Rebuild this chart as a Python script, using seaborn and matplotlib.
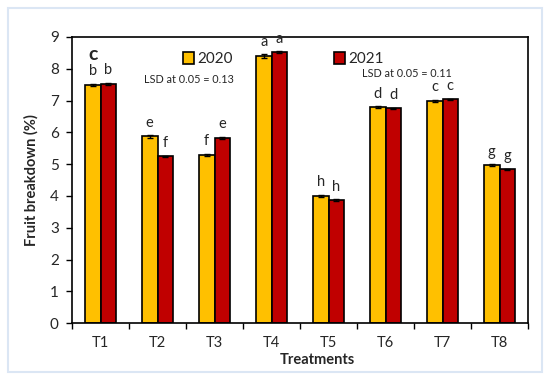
import matplotlib
matplotlib.use("Agg")
import matplotlib.pyplot as plt
import pandas as pd
import seaborn as sns
from matplotlib.patches import Rectangle

treatments = ["T1", "T2", "T3", "T4", "T5", "T6", "T7", "T8"]
years = ["2020", "2021"]
vals_2020 = [7.49, 5.87, 5.30, 8.40, 4.00, 6.79, 6.98, 4.97]
vals_2021 = [7.52, 5.25, 5.83, 8.52, 3.87, 6.75, 7.04, 4.84]
err_2020 = [0.03, 0.04, 0.03, 0.05, 0.04, 0.03, 0.04, 0.03]
err_2021 = [0.03, 0.02, 0.03, 0.03, 0.02, 0.02, 0.02, 0.02]
letters_2020 = ["b", "e", "f", "a", "h", "d", "c", "g"]
letters_2021 = ["b", "f", "e", "a", "h", "d", "c", "g"]
colors = ["#FFC000", "#C00000"]

df = pd.DataFrame({
    "Treatment": treatments * 2,
    "Year": [years[0]] * 8 + [years[1]] * 8,
    "value": vals_2020 + vals_2021,
})

sns.set_theme(style="white")
plt.rcParams["font.family"] = ["Lato", "DejaVu Sans"]

fig, ax = plt.subplots(figsize=(5.5, 3.77), dpi=100)
fig.subplots_adjust(left=0.131, right=0.96, top=0.902, bottom=0.143)

sns.barplot(data=df, x="Treatment", y="value", hue="Year", palette=colors,
            width=0.55, errorbar=None, edgecolor="black", linewidth=1.2,
            saturation=1, ax=ax)

errs = [err_2020, err_2021]
labs = [letters_2020, letters_2021]
for cont, e, lab in zip(ax.containers, errs, labs):
    xs = [p.get_x() + p.get_width() / 2 for p in cont]
    hs = [p.get_height() for p in cont]
    ax.errorbar(xs, hs, yerr=e, fmt="none", ecolor="black", elinewidth=1,
                capsize=2.5, capthick=1)
    for x, h, er, t in zip(xs, hs, e, lab):
        ax.annotate(t, (x, h + er), xytext=(0, 4), textcoords="offset points",
                    ha="center", va="bottom", fontsize=10.5)

ax.set_ylim(0, 9)
ax.set_xlim(-0.5, 7.5)
ax.set_yticks(range(0, 10))
ax.set_xticks(range(8))
ax.set_xticks([i - 0.5 for i in range(9)], minor=True)
ax.tick_params(axis="x", which="major", length=0, labelsize=10.5, pad=9)
ax.tick_params(axis="x", which="minor", length=4.5, width=1, direction="out",
               bottom=True, color="black")
ax.tick_params(axis="y", length=4.5, width=1, direction="out", left=True,
               labelsize=11, color="black", pad=5)
for s in ax.spines.values():
    s.set_color("black")
    s.set_linewidth(1.2)

ax.set_xlabel("Treatments", fontweight="bold", fontsize=10.5)
ax.xaxis.set_label_coords(0.537, -0.103)
ax.set_ylabel("Fruit breakdown (%)", fontweight="bold", fontsize=10.5, labelpad=8)

ax.text(0.035, 0.94, "c", transform=ax.transAxes, fontsize=14,
        fontweight="bold", ha="left", va="center")
ax.text(0.257, 0.85, "LSD at 0.05 = 0.13", transform=ax.transAxes,
        fontsize=7.8, ha="center", va="center")
ax.text(0.735, 0.871, "LSD at 0.05 = 0.11", transform=ax.transAxes,
        fontsize=7.8, ha="center", va="center")

ax.legend(loc="center left", bbox_to_anchor=(0.243, 0.923), ncol=2, frameon=False,
          fontsize=11, handlelength=0.75, handleheight=0.85, handletextpad=0.2,
          columnspacing=6.6, borderaxespad=0, borderpad=0)

fig.patches.append(Rectangle((0.014, 0.013), 0.972, 0.967,
                             transform=fig.transFigure, fill=False,
                             edgecolor="#dbe6f4", linewidth=1.5))

fig.savefig("out.png", dpi=100)
